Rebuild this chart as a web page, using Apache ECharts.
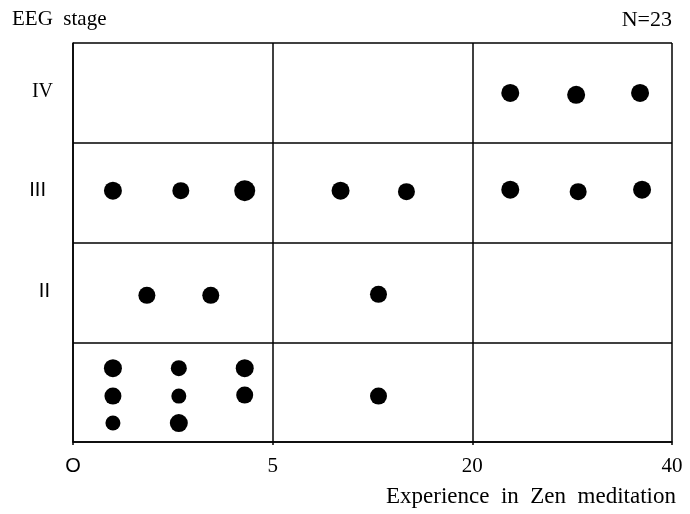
<!DOCTYPE html>
<html>
<head>
<meta charset="utf-8">
<script src="https://cdn.jsdelivr.net/npm/echarts@6/dist/echarts.min.js"></script>
<style>html,body{margin:0;padding:0;background:#fff;}#c{width:690px;height:514px;}</style>
</head>
<body>
<div id="c"></div>
<script>
// Experience columns (equal width bands): 0-5, 5-20, 20-40 years
var xTickLabels = ['O', '5', '20', '40'];
// EEG stage rows, bottom to top (bottom row unlabelled)
var stageLabels = ['', 'II', 'III', 'IV'];
// points: [x in column units, y in row units, diameter]
var pointX = [2.19, 2.52, 2.84,
              0.20, 0.54, 0.86, 1.34, 1.67, 2.19, 2.53, 2.85,
              0.37, 0.69, 1.53,
              0.20, 0.53, 0.86, 0.20, 0.53, 0.86, 0.20, 0.53, 1.53];
var pointY = [3.50, 3.48, 3.50,
              2.52, 2.52, 2.52, 2.52, 2.51, 2.53, 2.51, 2.53,
              1.47, 1.47, 1.48,
              0.74, 0.74, 0.74, 0.46, 0.46, 0.47, 0.19, 0.19, 0.46];
var pointSize = [18, 18, 18,
                 18, 17, 21, 18, 17, 18, 17, 18,
                 17, 17, 17,
                 18, 16, 18, 17, 15, 17, 15, 18, 17];

var data = pointX.map(function (x, i) { return [x, pointY[i], pointSize[i]]; });

var chart = echarts.init(document.getElementById('c'));
var black = '#000';
chart.setOption({
  animation: false,
  backgroundColor: '#fff',
  grid: { left: 73, right: 18, top: 43, bottom: 72 },
  xAxis: {
    type: 'value', min: 0, max: 3, interval: 1,
    axisLine: { show: true, lineStyle: { color: black, width: 1.5 } },
    axisTick: { show: true, length: 3, lineStyle: { color: black, width: 1.5 } },
    splitLine: { show: true, lineStyle: { color: black, width: 1.5 } },
    axisLabel: {
      margin: 14,
      color: black,
      formatter: function (v) {
        var t = xTickLabels[Math.round(v)];
        return v === 0 ? '{o|' + t + '}' : '{n|' + t + '}';
      },
      rich: {
        o: { fontFamily: 'Liberation Sans', fontSize: 20, color: black },
        n: { fontFamily: 'Liberation Serif', fontSize: 21, color: black }
      }
    }
  },
  yAxis: [{
    type: 'category', data: stageLabels, boundaryGap: true,
    axisLine: { show: true, lineStyle: { color: black, width: 1.5 } },
    axisTick: { show: false },
    splitLine: { show: true, lineStyle: { color: black, width: 1.5 } },
    axisLabel: {
      margin: 20,
      color: black,
      formatter: function (v) {
        if (v === 'IV') return '{iv|' + v + '}';
        if (v === 'III') return '{iii|' + v + '}';
        if (v === 'II') return '{ii|' + v + '}';
        return v;
      },
      rich: {
        iv: { fontFamily: 'Liberation Serif', fontSize: 20, color: black, padding: [0, 0, 2, 0] },
        iii: { fontFamily: 'DejaVu Sans', fontSize: 19, color: black, padding: [0, 7, 4, 0] },
        ii: { fontFamily: 'DejaVu Sans', fontSize: 19, color: black, padding: [0, 3, 0, 0] }
      }
    }
  }, {
    type: 'value', min: 0, max: 4, interval: 1, show: false
  }],
  graphic: [
    { type: 'text', left: 12, top: 9, style: { text: 'EEG  stage', font: '21px "Liberation Serif"', fill: black } },
    { type: 'text', right: 18, top: 9, style: { text: 'N=23', font: '22px "Liberation Serif"', fill: black } },
    { type: 'text', left: 386, top: 485, style: { text: 'Experience  in  Zen  meditation', font: '23px "Liberation Serif"', fill: black } }
  ],
  series: [{
    type: 'scatter',
    yAxisIndex: 1,
    data: data,
    symbol: 'circle',
    symbolSize: function (d) { return d[2]; },
    itemStyle: { color: black, opacity: 1 }
  }]
});
</script>
</body>
</html>
